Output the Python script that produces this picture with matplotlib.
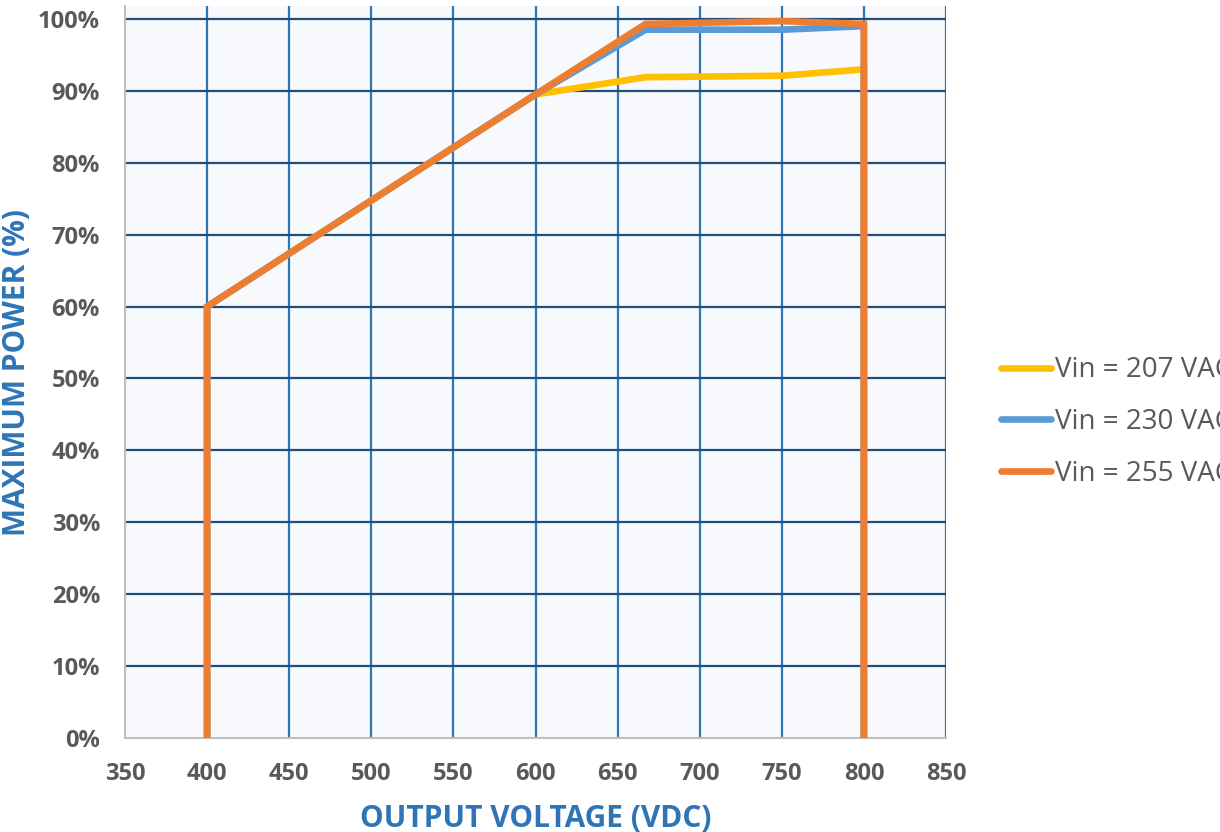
import matplotlib
matplotlib.use("Agg")
import matplotlib.pyplot as plt

voltage = [400, 400, 600, 667, 750, 800, 800]
p207 = [0, 60, 89.5, 91.9, 92.1, 93.0, 0]
p230 = [0, 60, 89.5, 98.5, 98.5, 99.0, 0]
p255 = [0, 60, 89.5, 99.3, 99.7, 99.3, 0]
labels = ["Vin = 207 VAC", "Vin = 230 VAC", "Vin = 255 VAC"]
colors = ["#FFC000", "#5B9BD5", "#ED7D31"]
xticks = [350, 400, 450, 500, 550, 600, 650, 700, 750, 800, 850]
yticks = [0, 10, 20, 30, 40, 50, 60, 70, 80, 90, 100]

plt.rcParams['font.family'] = ['Open Sans', 'DejaVu Sans']

fig = plt.figure(figsize=(12.2, 8.32), dpi=100)
ax = fig.add_axes([125/1220, 94/832, (946-125)/1220, (738-6)/832])
ax.set_facecolor("#F7F9FC")

for xv in xticks[1:]:
    ax.axvline(xv, color="#2E75B6", lw=1.6, zorder=1)
for yv in yticks[1:]:
    ax.axhline(yv, color="#1F4E79", lw=1.6, zorder=1)

for ys, lab, c in zip([p207, p230, p255], labels, colors):
    ax.plot(voltage, ys, color=c, lw=4.8, label=lab, zorder=3, solid_joinstyle='miter')

ax.set_xlim(350, 850)
ax.set_ylim(0, 101.8)
ax.set_xticks(xticks)
ax.set_yticks(yticks)
ax.set_yticklabels([f"{v}%" for v in yticks])
ax.tick_params(length=0, labelsize=17, labelcolor="#595959")
ax.tick_params(axis="x", pad=17)
ax.tick_params(axis="y", pad=18)
for t in ax.get_xticklabels() + ax.get_yticklabels():
    t.set_fontweight("bold")

for s in ["top", "right"]:
    ax.spines[s].set_visible(False)
for s in ["left", "bottom"]:
    ax.spines[s].set_color("#BFBFBF")
    ax.spines[s].set_linewidth(1.5)

ax.set_xlabel("OUTPUT VOLTAGE (VDC)", fontsize=21.5, fontweight="bold", color="#2E75B6", labelpad=13)
ax.set_ylabel("MAXIMUM POWER (%)", fontsize=21.5, fontweight="bold", color="#2E75B6", labelpad=4)

leg = ax.legend(loc="center left", bbox_to_anchor=(1001/1220, 410/832), bbox_transform=fig.transFigure,
                frameon=False, fontsize=20, labelcolor="#595959", handlelength=1.8,
                handletextpad=0.14, labelspacing=0.85, borderaxespad=0, borderpad=0)
for h in leg.get_lines():
    h.set_linewidth(4.8)
    h.set_solid_capstyle('round')

fig.savefig("out.png", dpi=100)
